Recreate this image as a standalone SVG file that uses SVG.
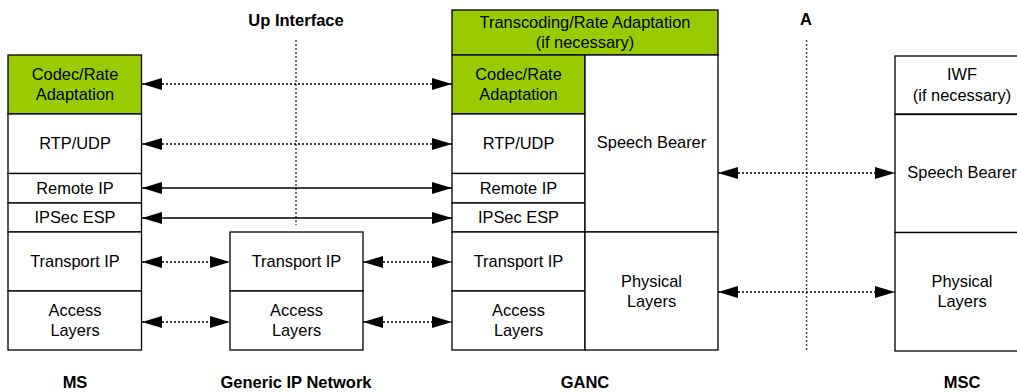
<svg xmlns="http://www.w3.org/2000/svg" width="1017" height="392" viewBox="0 0 1017 392">
<style>
.box{fill:#fff;stroke:#000;stroke-width:1.3}
.g{fill:#99CC00}
.t{font-family:"Liberation Sans",Arial,sans-serif;font-size:16.4px;fill:#000;text-anchor:middle}
.b{font-family:"Liberation Sans",Arial,sans-serif;font-size:16.5px;font-weight:bold;fill:#000;text-anchor:middle}
.dot{stroke:#000;stroke-width:1.5;stroke-dasharray:2,2;fill:none}
.sol{stroke:#000;stroke-width:1.3;fill:none}
.if{stroke:#444;stroke-width:1.5;stroke-dasharray:2,2;fill:none}
</style>
<defs>
<marker id="ah" markerUnits="userSpaceOnUse" markerWidth="20" markerHeight="13" viewBox="0 0 20 13" refX="20" refY="6.5" orient="auto-start-reverse">
<path d="M0,0.5 L20,6.5 L0,12.5 z" fill="#000"/>
</marker>
</defs>

<g id="labels">
<text class="b" x="296" y="26">Up Interface</text>
<text class="b" x="806" y="25">A</text>
<text class="b" x="75" y="388">MS</text>
<text class="b" x="296" y="388">Generic IP Network</text>
<text class="b" x="585" y="388">GANC</text>
<text class="b" x="962" y="388">MSC</text>
</g>

<g id="interfaces">
<line class="if" x1="296" y1="40" x2="296" y2="225"/>
<line class="if" x1="806.5" y1="40" x2="806.5" y2="352"/>
</g>

<g id="ms">
<rect class="box g" x="8" y="55" width="133.5" height="59"/>
<text class="t" x="75" y="80">Codec/Rate</text>
<text class="t" x="75" y="100">Adaptation</text>
<rect class="box" x="8" y="114" width="133.5" height="59.5"/>
<text class="t" x="75" y="149">RTP/UDP</text>
<rect class="box" x="8" y="173.5" width="133.5" height="29.5"/>
<text class="t" x="75" y="193.5">Remote IP</text>
<rect class="box" x="8" y="203" width="133.5" height="29"/>
<text class="t" x="75" y="223">IPSec ESP</text>
<rect class="box" x="8" y="232" width="133.5" height="59"/>
<text class="t" x="75" y="267">Transport IP</text>
<rect class="box" x="8" y="291" width="133.5" height="59"/>
<text class="t" x="75" y="316">Access</text>
<text class="t" x="75" y="336">Layers</text>
</g>

<g id="generic-ip">
<rect class="box" x="230" y="232" width="133" height="59"/>
<text class="t" x="296.5" y="267">Transport IP</text>
<rect class="box" x="230" y="291" width="133" height="59"/>
<text class="t" x="296.5" y="316">Access</text>
<text class="t" x="296.5" y="336">Layers</text>
</g>

<g id="ganc">
<rect class="box g" x="452" y="10" width="266" height="45"/>
<text class="t" x="585" y="28">Transcoding/Rate Adaptation</text>
<text class="t" x="585" y="48">(if necessary)</text>
<rect class="box g" x="452" y="55" width="133" height="59"/>
<text class="t" x="518.5" y="80">Codec/Rate</text>
<text class="t" x="518.5" y="100">Adaptation</text>
<rect class="box" x="452" y="114" width="133" height="59.5"/>
<text class="t" x="518.5" y="149">RTP/UDP</text>
<rect class="box" x="452" y="173.5" width="133" height="29.5"/>
<text class="t" x="518.5" y="193.5">Remote IP</text>
<rect class="box" x="452" y="203" width="133" height="29"/>
<text class="t" x="518.5" y="223">IPSec ESP</text>
<rect class="box" x="452" y="232" width="133" height="59"/>
<text class="t" x="518.5" y="267">Transport IP</text>
<rect class="box" x="452" y="291" width="133" height="59"/>
<text class="t" x="518.5" y="316">Access</text>
<text class="t" x="518.5" y="336">Layers</text>
<rect class="box" x="585" y="55" width="133" height="177"/>
<text class="t" x="651.5" y="148">Speech Bearer</text>
<rect class="box" x="585" y="232" width="133" height="118"/>
<text class="t" x="651.5" y="287">Physical</text>
<text class="t" x="651.5" y="307">Layers</text>
</g>

<g id="msc">
<rect class="box" x="895" y="56" width="135" height="58"/>
<text class="t" x="962" y="80">IWF</text>
<text class="t" x="962" y="101">(if necessary)</text>
<rect class="box" x="895" y="114.5" width="135" height="118"/>
<text class="t" x="962" y="178">Speech Bearer</text>
<rect class="box" x="895" y="232.5" width="135" height="118.5"/>
<text class="t" x="962" y="287">Physical</text>
<text class="t" x="962" y="307">Layers</text>
</g>

<g id="connectors">
<line class="dot" x1="142" y1="84" x2="452" y2="84" marker-start="url(#ah)" marker-end="url(#ah)"/>
<line class="dot" x1="142" y1="144" x2="452" y2="144" marker-start="url(#ah)" marker-end="url(#ah)"/>
<line class="sol" x1="142" y1="188" x2="452" y2="188" marker-start="url(#ah)" marker-end="url(#ah)"/>
<line class="sol" x1="142" y1="218" x2="452" y2="218" marker-start="url(#ah)" marker-end="url(#ah)"/>
<line class="dot" x1="142" y1="262" x2="230" y2="262" marker-start="url(#ah)" marker-end="url(#ah)"/>
<line class="dot" x1="142" y1="322" x2="230" y2="322" marker-start="url(#ah)" marker-end="url(#ah)"/>
<line class="dot" x1="363" y1="262" x2="452" y2="262" marker-start="url(#ah)" marker-end="url(#ah)"/>
<line class="dot" x1="363" y1="322" x2="452" y2="322" marker-start="url(#ah)" marker-end="url(#ah)"/>
<line class="dot" x1="718" y1="173" x2="895" y2="173" marker-start="url(#ah)" marker-end="url(#ah)"/>
<line class="dot" x1="718" y1="292" x2="895" y2="292" marker-start="url(#ah)" marker-end="url(#ah)"/>
</g>
</svg>
